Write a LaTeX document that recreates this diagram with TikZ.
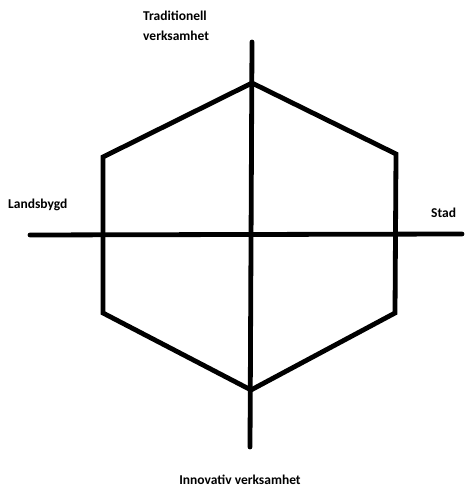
\documentclass[tikz,border=0pt]{standalone}
\usepackage{fontspec}
\setmainfont{Carlito}
\begin{document}
\begin{tikzpicture}[x=1pt,y=1pt,
  axisline/.style={line width=4.8pt,line cap=round},
  hexline/.style={line width=4.8pt,line join=miter},
  lbl/.style={font=\bfseries\fontsize{13.5}{20}\selectfont,inner sep=0pt}]
\useasboundingbox (0,0) rectangle (464,489);
% hexagon vertices (image y flipped)
\coordinate (T)  at (252,406);
\coordinate (UR) at (396,335);
\coordinate (LR) at (395,176);
\coordinate (B)  at (251,99);
\coordinate (LL) at (103,176);
\coordinate (UL) at (103,332);
% axis ends
\coordinate (vtop) at (252,447);
\coordinate (vbot) at (250,42);
\coordinate (hl) at (30,254);
\coordinate (hr) at (462,255);
\draw[hexline] (T) -- (UR) -- (LR) -- (B) -- (LL) -- (UL) -- cycle;
\draw[axisline] (vtop) -- (vbot);
\draw[axisline] (hl) -- (hr);
\node[lbl,anchor=north west,align=left] (trad) at (143,478) {Traditionell\\verksamhet};
\node[lbl,anchor=west] (land) at (8,284) {Landsbygd};
\node[lbl,anchor=west] (stad) at (431,276) {Stad};
\node[lbl,anchor=center] (inno) at (240,9) {Innovativ verksamhet};
\end{tikzpicture}
\end{document}
